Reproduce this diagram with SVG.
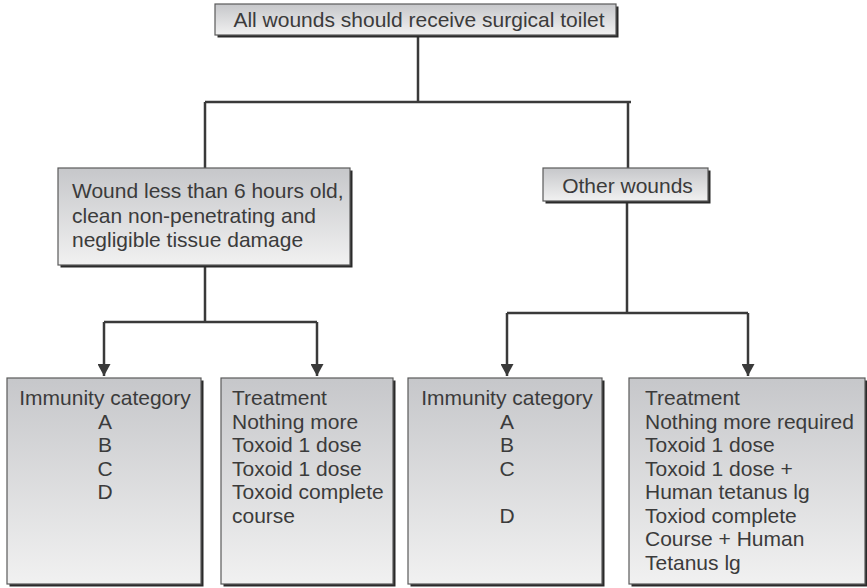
<svg xmlns="http://www.w3.org/2000/svg" width="867" height="588" viewBox="0 0 867 588">
<style>
.box{fill:url(#g);stroke:#5a5a5a;stroke-width:1.2}
.sh{fill:#2a2a2a}
.t{font-family:"Liberation Sans",Arial,sans-serif;font-size:21px;fill:#3b3b3b}
.c{text-anchor:middle}
.ln{fill:none;stroke:#3a3a3a;stroke-width:2.5}
</style>
<defs>
<linearGradient id="g" x1="0" y1="0" x2="0" y2="1">
<stop offset="0" stop-color="#c6c7ca"/>
<stop offset="1" stop-color="#f1f1f1"/>
</linearGradient>
<marker id="ar" markerUnits="userSpaceOnUse" markerWidth="14" markerHeight="13" refX="12" refY="6.5" orient="auto">
<path d="M0,0 L12,6.5 L0,13 Z" fill="#3a3a3a"/>
</marker>
</defs>
<rect width="867" height="588" fill="#ffffff"/>
<g id="connectors">
<path class="ln" d="M418,37 V102 M205,102 H631 M205,102 V168 M628,102 V168"/>
<path class="ln" d="M205,267 V322 M104,322 H317"/>
<path class="ln" d="M104,322 V376" marker-end="url(#ar)"/>
<path class="ln" d="M317,322 V376" marker-end="url(#ar)"/>
<path class="ln" d="M627,202 V313 M507,313 H748"/>
<path class="ln" d="M507,313 V376" marker-end="url(#ar)"/>
<path class="ln" d="M748,313 V376" marker-end="url(#ar)"/>
</g>
<g id="top">
<rect class="sh" x="217.5" y="6.5" width="401" height="31"/>
<rect class="box" x="215" y="4" width="401" height="31"/>
<text class="t c" x="419" y="27">All wounds should receive surgical toilet</text>
</g>
<g id="clean">
<rect class="sh" x="60.5" y="170.5" width="292" height="97"/>
<rect class="box" x="58" y="168" width="292" height="97"/>
<text class="t" x="72" y="198">Wound less than 6 hours old,</text>
<text class="t" x="72" y="222.5">clean non-penetrating and</text>
<text class="t" x="72" y="247">negligible tissue damage</text>
</g>
<g id="other">
<rect class="sh" x="545.5" y="170.5" width="165" height="33"/>
<rect class="box" x="543" y="168" width="165" height="33"/>
<text class="t c" x="627.5" y="193">Other wounds</text>
</g>
<g id="imm1">
<rect class="sh" x="9.5" y="380.5" width="194" height="206"/>
<rect class="box" x="7" y="378" width="194" height="206"/>
<text class="t c" x="105" y="405">Immunity category</text>
<text class="t c" x="105" y="428.5">A</text>
<text class="t c" x="105" y="452">B</text>
<text class="t c" x="105" y="475.5">C</text>
<text class="t c" x="105" y="499">D</text>
</g>
<g id="treat1">
<rect class="sh" x="223.5" y="380.5" width="172" height="206"/>
<rect class="box" x="221" y="378" width="172" height="206"/>
<text class="t" x="232" y="405">Treatment</text>
<text class="t" x="232" y="428.5">Nothing more</text>
<text class="t" x="232" y="452">Toxoid 1 dose</text>
<text class="t" x="232" y="475.5">Toxoid 1 dose</text>
<text class="t" x="232" y="499">Toxoid complete</text>
<text class="t" x="232" y="522.5">course</text>
</g>
<g id="imm2">
<rect class="sh" x="410.5" y="380.5" width="194" height="206"/>
<rect class="box" x="408" y="378" width="194" height="206"/>
<text class="t c" x="507" y="405">Immunity category</text>
<text class="t c" x="507" y="428.5">A</text>
<text class="t c" x="507" y="452">B</text>
<text class="t c" x="507" y="475.5">C</text>
<text class="t c" x="507" y="522.5">D</text>
</g>
<g id="treat2">
<rect class="sh" x="631.5" y="380.5" width="236" height="206"/>
<rect class="box" x="629" y="378" width="236" height="206"/>
<text class="t" x="645" y="405">Treatment</text>
<text class="t" x="645" y="428.5">Nothing more required</text>
<text class="t" x="645" y="452">Toxoid 1 dose</text>
<text class="t" x="645" y="475.5">Toxoid 1 dose +</text>
<text class="t" x="645" y="499">Human tetanus lg</text>
<text class="t" x="645" y="522.5">Toxiod complete</text>
<text class="t" x="645" y="546">Course + Human</text>
<text class="t" x="645" y="569.5">Tetanus lg</text>
</g>
</svg>
